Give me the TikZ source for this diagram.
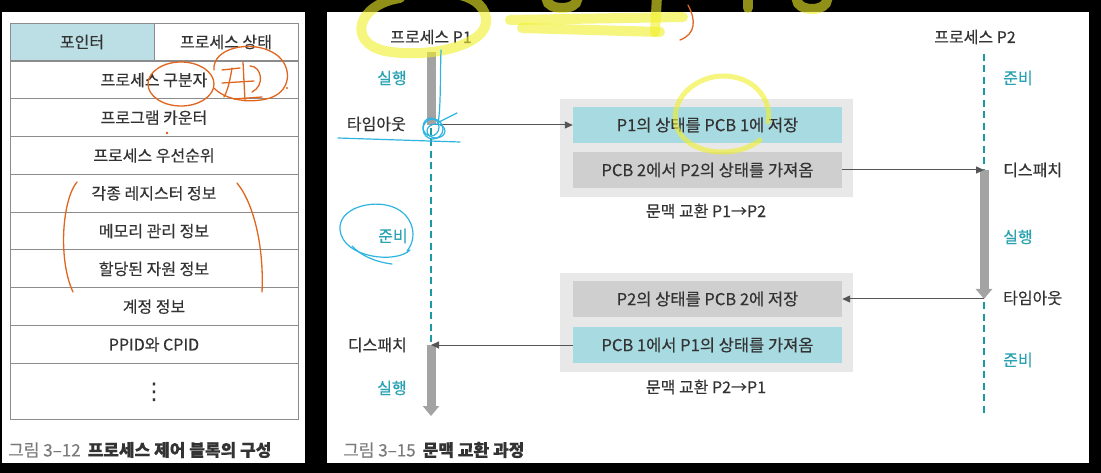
\documentclass[tikz,border=0pt]{standalone}
\usepackage{fontspec}
\setmainfont{Noto Sans CJK KR}[FakeBold=0.35]
\newfontfamily\dotsfont{DejaVu Sans}
\usetikzlibrary{arrows.meta}
\definecolor{tealtxt}{HTML}{2BA3B3}
\definecolor{tealbox}{HTML}{A8DAE2}
\definecolor{graybox}{HTML}{CFCFCF}
\definecolor{outerbox}{HTML}{E8E8E8}
\definecolor{barcol}{HTML}{A3A3A3}
\definecolor{dashcol}{HTML}{1B9AA3}
\definecolor{txt}{HTML}{333333}
\definecolor{hdr}{HTML}{BCDFE5}
\definecolor{rulecol}{HTML}{8C8C8C}
\definecolor{capgray}{HTML}{7A7A7A}
\definecolor{arrcol}{HTML}{555555}
\definecolor{orng}{HTML}{E0661E}
\definecolor{blu}{HTML}{2EB4E0}
\definecolor{hyel}{HTML}{F0F028}
\begin{document}
\begin{tikzpicture}[x=1pt,y=-1pt,
  cell/.style={draw=rulecol, line width=1pt, minimum width=288pt, minimum height=37.8pt, inner sep=0pt, font=\fontsize{16}{18}\selectfont, text=txt},
  lbl/.style={font=\fontsize{16}{18}\selectfont, text=txt, inner sep=0pt},
  state/.style={font=\fontsize{16}{18}\selectfont, text=tealtxt, inner sep=0pt},
  outer/.style={fill=outerbox, minimum width=293pt, minimum height=98pt, inner sep=0pt},
  tbox/.style={fill=tealbox, minimum width=269pt, minimum height=36pt, inner sep=0pt, font=\fontsize{16.5}{18}\selectfont, text=txt},
  gbox/.style={fill=graybox, minimum width=269pt, minimum height=36pt, inner sep=0pt, font=\fontsize{16.5}{18}\selectfont, text=txt},
  bar/.style={draw=barcol, line width=9pt},
  bararrow/.style={draw=barcol, line width=9pt, -{Triangle[width=16pt,length=10pt]}},
  dashline/.style={draw=dashcol, line width=2.6pt, dash pattern=on 7pt off 4.5pt},
  conn/.style={draw=arrcol, line width=1pt, -{Triangle[length=8pt,width=7pt]}},
  caption/.style={anchor=west, inner sep=0pt, font=\fontsize{17}{19}\selectfont},
  hl/.style={draw=hyel, opacity=0.6, line width=10pt, line cap=round},
  hlthin/.style={draw=hyel, opacity=0.6, line width=5pt, line cap=round},
  pen/.style={draw=orng, line width=1.3pt, line cap=round},
  bpen/.style={draw=blu, line width=1.2pt, line cap=round}
]
\useasboundingbox (0,0) rectangle (1101,473);
\fill[black] (0,0) rectangle (1101,473);
% panels
\fill[white] (2,12) rectangle (305,463);
\fill[white] (327,12) rectangle (1089,463);

% ---- left table ----
\node[cell, minimum width=144pt, fill=hdr] (h1) at (82,42) {포인터};
\node[cell, minimum width=144pt] (h2) at (226,42) {프로세스 상태};
\node[cell] (r1) at (154,80) {프로세스 구분자};
\node[cell] (r2) at (154,117.7) {프로그램 카운터};
\node[cell] (r3) at (154,155.5) {프로세스 우선순위};
\node[cell] (r4) at (154,193.3) {각종 레지스터 정보};
\node[cell] (r5) at (154,231.1) {메모리 관리 정보};
\node[cell] (r6) at (154,268.9) {할당된 자원 정보};
\node[cell] (r7) at (154,306.7) {계정 정보};
\node[cell] (r8) at (154,344.5) {PPID와 CPID};
\node[cell, minimum height=56pt] (r9) at (154,391.4) {};
\node[inner sep=0pt, font=\dotsfont\fontsize{23}{23}\selectfont, text=txt] (vd) at (154,392) {⋮};
\node[caption] (cap1) at (8,450) {\textcolor{capgray}{그림 3–12}\hspace{7pt}\textcolor{txt}{\bfseries 프로세스 제어 블록의 구성}};

% ---- right diagram ----
\coordinate (p1top) at (431,52);
\coordinate (p1to) at (431,125);
\coordinate (p1disp) at (431,345);
\coordinate (p1end) at (431,416);
\coordinate (p2top) at (984,54);
\coordinate (p2disp) at (984,170);
\coordinate (p2to) at (984,299);
\coordinate (p2end) at (984,416);

\node[lbl] (p1lbl) at (431,37) {프로세스 P1};
\node[lbl] (p2lbl) at (975,37) {프로세스 P2};

\node[state] (s1) at (392,78) {실행};
\node[lbl, anchor=east] (t1) at (406,124) {타임아웃};
\node[state] (s2) at (393,236) {준비};
\node[lbl, anchor=east] (d1) at (407,345) {디스패치};
\node[state] (s3) at (392,388) {실행};

\node[state] (s4) at (1018,78) {준비};
\node[lbl, anchor=west] (d2) at (1003,170) {디스패치};
\node[state] (s5) at (1018,237) {실행};
\node[lbl, anchor=west] (t2) at (1003,298) {타임아웃};
\node[state] (s6) at (1018,360) {준비};

\node[outer] (o1) at (706.5,148) {};
\node[tbox] (b1) at (707.5,125) {P1의 상태를 PCB 1에 저장};
\node[gbox] (b2) at (707.5,170) {PCB 2에서 P2의 상태를 가져옴};
\node[lbl] (c1) at (706,211) {문맥 교환 P1→P2};

\node[outer] (o2) at (706.5,322.5) {};
\node[gbox] (b3) at (707.5,299) {P2의 상태를 PCB 2에 저장};
\node[tbox] (b4) at (707.5,345) {PCB 1에서 P1의 상태를 가져옴};
\node[lbl] (c2) at (706,387) {문맥 교환 P2→P1};

\draw[bar] (p1top) -- (p1to);
\draw[dashline] (p1to) ++(0,3) -- (p1disp);
\draw[bararrow] (p1disp) -- (p1end);
\draw[dashline] (p2top) -- (p2disp);
\draw[bararrow] (p2disp) -- (p2to);
\draw[dashline] (p2to) ++(0,3) -- (p2end);

\draw[conn] (p1to) -- (b1.west);
\draw[conn] (b2.east) -- (p2disp);
\draw[conn] (p2to) -- (b3.east);
\draw[conn] (b4.west) -- (p1disp);

\node[caption] (cap2) at (343,450) {\textcolor{capgray}{그림 3–15}\hspace{7pt}\textcolor{txt}{\bfseries 문맥 교환 과정}};

% ---- handwritten annotations ----
% yellow
\draw[hl] (400,-2) .. controls (358,4) and (346,42) .. (385,51) .. controls (430,59) and (490,45) .. (486,18) .. controls (484,4) and (470,-4) .. (455,-6);
\draw[hl] (510,20) -- (683,17);
\draw[hl] (522,28) -- (660,32);
\draw[hl] (657,-4) -- (655,32);
\draw[hl] (562,0) ellipse (15 and 8);
\draw[hl] (748,-4) -- (748,8);
\draw[hl] (812,0) ellipse (15 and 9);
\draw[hlthin] (760,140) .. controls (735,160) and (685,155) .. (676,125) .. controls (670,95) and (700,75) .. (725,76) .. controls (755,77) and (772,100) .. (768,122);
% orange
\draw[pen] (688,5) .. controls (696,20) and (696,34) .. (680,40);
\draw[pen] (181,84) ellipse (33 and 22);
\draw[pen] (214,70) .. controls (212,48) and (250,40) .. (272,52) .. controls (292,62) and (294,90) .. (270,98) .. controls (250,104) and (225,100) .. (214,88);
\draw[pen] (222,70) -- (240,68);
\draw[pen] (232,68) .. controls (230,80) and (228,90) .. (224,97);
\draw[pen] (222,83) -- (254,81);
\draw[pen] (243,62) -- (245,101);
\draw[pen] (250,66) .. controls (262,66) and (265,86) .. (252,92);
\draw[pen] (234,99) -- (262,97);
\fill[orng] (287,88) circle (1.2);
\fill[orng!80!red] (167,133) circle (1.3);
\draw[pen] (77,182) .. controls (62,200) and (58,260) .. (73,292);
\draw[pen] (237,183) .. controls (255,205) and (264,250) .. (262,292);
% blue
\draw[bpen] (441,50) .. controls (440,80) and (441,105) .. (438,124);
\draw[bpen] (433,129) circle (10);
\draw[bpen] (431,127) ellipse (8 and 9);
\draw[bpen] (436,131) ellipse (9 and 7);
\draw[bpen] (338,138) -- (460,142);
\draw[bpen] (439,122) -- (457,113);
\draw[bpen] (410,250) .. controls (396,264) and (343,258) .. (340,230) .. controls (338,208) and (372,199) .. (393,207) .. controls (414,215) and (418,238) .. (407,251);
\draw[bpen] (352,246) .. controls (360,255) and (375,262) .. (392,264);
\end{tikzpicture}
\end{document}
